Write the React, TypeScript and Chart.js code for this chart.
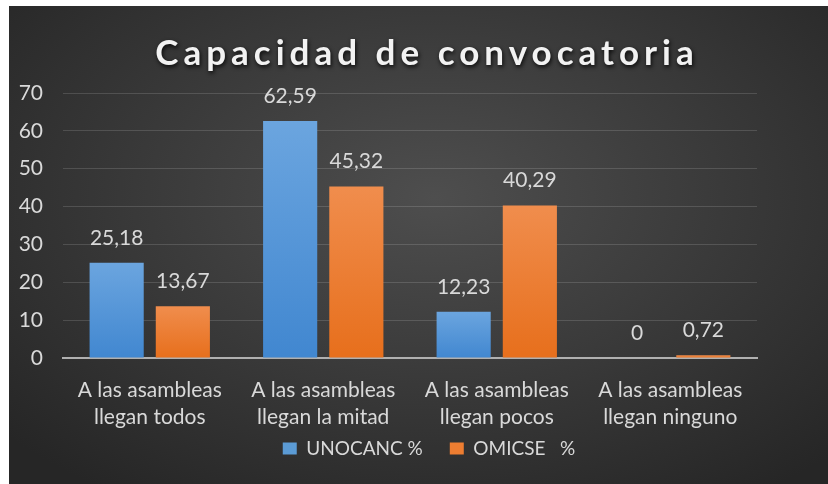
import React, { useEffect, useRef } from "react";
import { Chart, registerables } from "chart.js";

Chart.register(...registerables);

const TITLE = "Capacidad de convocatoria";
const categories: string[][] = [
  ["A las asambleas", "llegan todos"],
  ["A las asambleas", "llegan la mitad"],
  ["A las asambleas", "llegan pocos"],
  ["A las asambleas", "llegan ninguno"],
];
const seriesNames = ["UNOCANC %", "OMICSE   %"];
const unocanc = [25.18, 62.59, 12.23, 0];
const omicse = [13.67, 45.32, 40.29, 0.72];
const yMax = 70;
const yStep = 10;

const FONT = "Lato, 'Open Sans', sans-serif";
const TEXT = "#d9d9d9";
const LEGEND_FONT = 19;
const LEGEND_PAD = 27;

function barGradient(top: string, bottom: string) {
  return (ctx: any) => {
    const chart = ctx.chart;
    const y = chart.scales && chart.scales.y;
    if (!chart.chartArea || !y) return bottom;
    const v = ctx.raw ?? 0;
    const y0 = y.getPixelForValue(0);
    const y1 = y.getPixelForValue(v);
    if (Math.abs(y0 - y1) < 1) return bottom;
    const g = chart.ctx.createLinearGradient(0, y1, 0, y0);
    g.addColorStop(0, top);
    g.addColorStop(1, bottom);
    return g;
  };
}

const titlePlugin = {
  id: "customTitle",
  afterDraw(chart: any) {
    const ctx = chart.ctx;
    ctx.save();
    ctx.font = `bold 35px ${FONT}`;
    (ctx as any).letterSpacing = "5px";
    ctx.textAlign = "center";
    ctx.textBaseline = "alphabetic";
    ctx.shadowColor = "rgba(0,0,0,0.85)";
    ctx.shadowBlur = 4;
    ctx.shadowOffsetX = 1;
    ctx.shadowOffsetY = 2;
    ctx.fillStyle = "#f2f2f2";
    ctx.fillText(TITLE, 418, 59);
    ctx.restore();
  },
};

const legendPlacer = {
  id: "legendPlacer",
  afterLayout(chart: any) {
    const lg = chart.legend;
    if (!lg) return;
    const w = lg.right - lg.left;
    const h = lg.bottom - lg.top;
    const cx = 420;
    lg.left = cx - w / 2;
    lg.right = cx + w / 2;
    lg.top = 442.5 - LEGEND_PAD - LEGEND_FONT / 2;
    lg.bottom = lg.top + h;
  },
};

const dataLabelPlugin = {
  id: "dataLabels",
  afterDatasetsDraw(chart: any) {
    const ctx = chart.ctx;
    ctx.save();
    ctx.font = `21px ${FONT}`;
    ctx.fillStyle = TEXT;
    ctx.textAlign = "center";
    ctx.textBaseline = "alphabetic";
    chart.data.datasets.forEach((ds: any, i: number) => {
      const meta = chart.getDatasetMeta(i);
      meta.data.forEach((bar: any, j: number) => {
        const v = ds.data[j];
        const txt = String(v).replace(".", ",");
        ctx.fillText(txt, bar.x, bar.y - 18);
      });
    });
    ctx.restore();
  },
};

export default function App() {
  const ref = useRef<HTMLCanvasElement | null>(null);
  useEffect(() => {
    if (!ref.current) return;
    const chart = new Chart(ref.current, {
      type: "bar",
      data: {
        labels: categories,
        datasets: [
          {
            label: seriesNames[0],
            data: unocanc,
            backgroundColor: barGradient("#6ba5df", "#4187d0"),
            borderWidth: 0,
            categoryPercentage: 0.763,
            barPercentage: 0.818,
          },
          {
            label: seriesNames[1],
            data: omicse,
            backgroundColor: barGradient("#f08d4d", "#e76f1c"),
            borderWidth: 0,
            categoryPercentage: 0.763,
            barPercentage: 0.818,
          },
        ],
      },
      options: {
        animation: false,
        responsive: true,
        maintainAspectRatio: false,
        layout: { padding: { top: 87, right: 71, left: 0, bottom: 0 } },
        plugins: {
          title: { display: false },
          tooltip: { enabled: false },
          legend: {
            position: "bottom",
            labels: {
              color: TEXT,
              font: { family: FONT, size: LEGEND_FONT },
              boxWidth: 14,
              boxHeight: 12,
              padding: LEGEND_PAD,
              generateLabels: (chart: any) =>
                chart.data.datasets.map((ds: any, i: number) => ({
                  text: ds.label,
                  fillStyle: i === 0 ? "#5b9bd5" : "#ed7d31",
                  strokeStyle: "transparent",
                  lineWidth: 0,
                  fontColor: TEXT,
                  datasetIndex: i,
                })),
            },
          },
        },
        scales: {
          x: {
            afterFit: (scale: any) => {
              const lg = scale.chart.legend;
              const lh = lg && lg.height ? lg.height : 0;
              scale.height = Math.max(10, 126 - lh);
            },
            grid: { display: false, drawTicks: false },
            border: { display: true, color: "#b0b0b0", width: 2 },
            ticks: {
              color: TEXT,
              font: { family: FONT, size: 21, lineHeight: 1.29 },
              padding: 19,
              maxRotation: 0,
              autoSkip: false,
            },
          },
          y: {
            min: 0,
            max: yMax,
            afterFit: (scale: any) => {
              scale.width = 54;
            },
            grid: {
              color: "rgba(255,255,255,0.14)",
              lineWidth: 1,
              drawTicks: false,
            },
            border: { display: false },
            ticks: {
              stepSize: yStep,
              color: TEXT,
              font: { family: FONT, size: 21 },
              padding: 20,
            },
          },
        },
      },
      plugins: [legendPlacer, titlePlugin, dataLabelPlugin],
    });
    return () => chart.destroy();
  }, []);

  return (
    <div
      style={{
        position: "absolute",
        left: 9,
        top: 6,
        width: 819,
        height: 478,
        background:
          "radial-gradient(ellipse 70% 75% at 52% 40%, #4e4e4e 0%, #3c3c3c 45%, #262626 100%)",
      }}
    >
      <canvas ref={ref} />
    </div>
  );
}
